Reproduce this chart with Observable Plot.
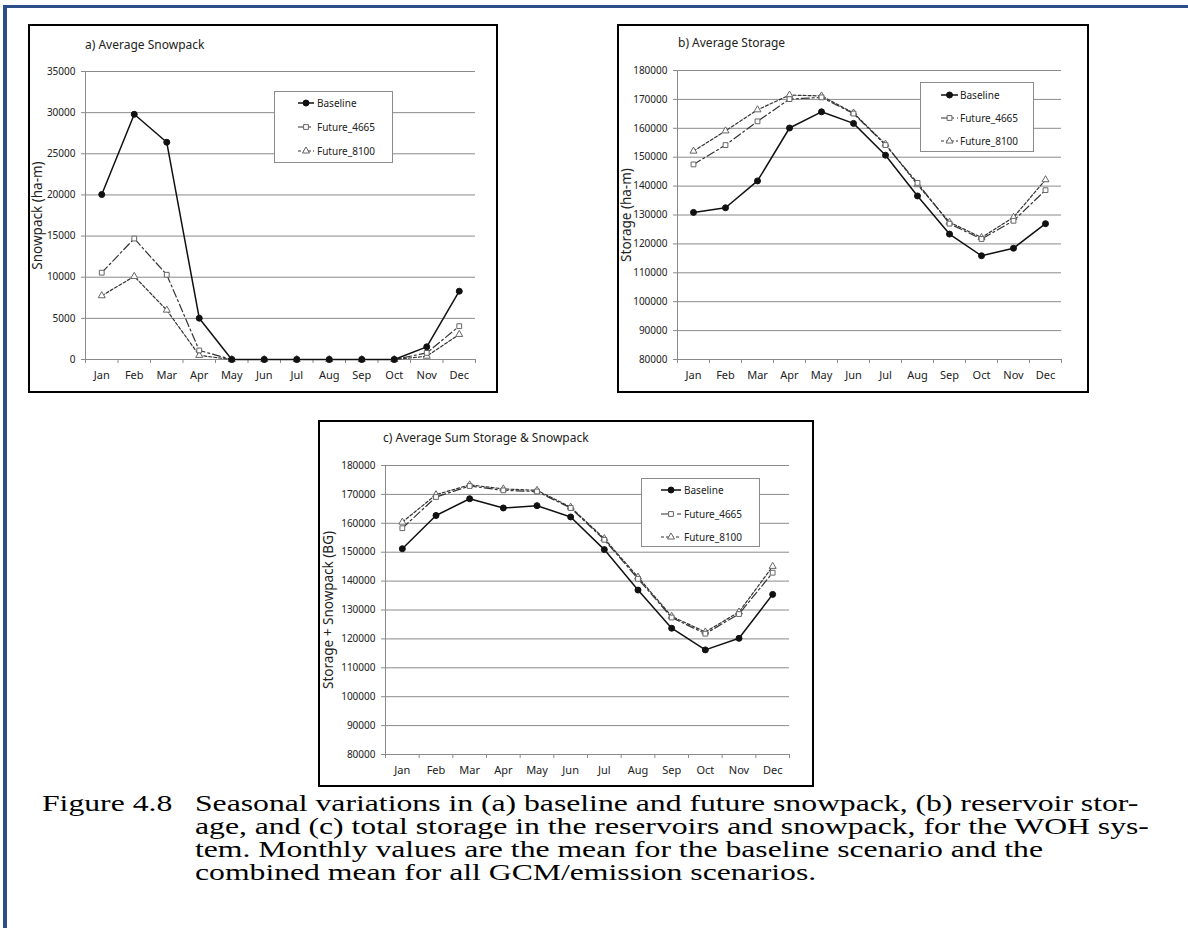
<!DOCTYPE html>
<html><head><meta charset="utf-8">
<script src="https://cdn.jsdelivr.net/npm/d3@7"></script>
<script src="https://cdn.jsdelivr.net/npm/@observablehq/plot@0.6"></script>
<style>
body{margin:0;background:#fff;width:1188px;height:928px;position:relative;overflow:hidden;font-family:"Noto Sans",sans-serif;}
#btop{position:absolute;left:3px;top:5px;width:1185px;height:2.5px;background:#2c4f8a;}
#bleft{position:absolute;left:3px;top:5px;width:3.5px;height:923px;background:#2c4f8a;}
.panel{position:absolute;border:2px solid #000;box-sizing:border-box;background:#fff;}
.panel svg{position:absolute;left:0;top:0;}
.title{position:absolute;font-size:12px;color:#222;white-space:nowrap;line-height:14px;}
.legend{position:absolute;border:1px solid #8c8c8c;box-sizing:border-box;background:#fff;}
.legend svg{position:absolute;left:0;top:0;overflow:visible;}
.cap{position:absolute;font-family:"Liberation Serif","Times New Roman",serif;font-size:24px;line-height:23px;color:#000;white-space:nowrap;transform:scaleX(1.32);transform-origin:0 0;}
</style>
</head><body>
<div id="btop"></div><div id="bleft"></div>
<script>
const months = ["Jan","Feb","Mar","Apr","May","Jun","Jul","Aug","Sep","Oct","Nov","Dec"];
const seriesNames = ["Baseline","Future_4665","Future_8100"];

// a) Average Snowpack (ha-m)
const snowBaseline = [20050, 29800, 26400, 5020, 0, 0, 0, 0, 0, 0, 1540, 8300];
const snowF4665    = [10550, 14700, 10300, 1100, 0, 0, 0, 0, 0, 0, 800, 4050];
const snowF8100    = [7750, 10100, 6000, 500, 0, 0, 0, 0, 0, 0, 400, 3050];
const snowTicks = [0,5000,10000,15000,20000,25000,30000,35000];

// b) Average Storage (ha-m)
const storBaseline = [130900, 132500, 141800, 160100, 165700, 161700, 150700, 136600, 123400, 115900, 118500, 127000];
const storF4665    = [147500, 154200, 162400, 170100, 170700, 165100, 154200, 141100, 127000, 121700, 128000, 138600];
const storF8100    = [152100, 159100, 166400, 171500, 171200, 165300, 154500, 140500, 127500, 122200, 129200, 142200];
const storTicks = [80000,90000,100000,110000,120000,130000,140000,150000,160000,170000,180000];

// c) Average Sum Storage & Snowpack
const sumBaseline = [151200, 162700, 168500, 165300, 166100, 162200, 150900, 136900, 123700, 116200, 120200, 135400];
const sumF4665    = [158300, 169100, 172900, 171400, 171000, 165300, 154300, 140800, 127400, 121800, 128600, 142900];
const sumF8100    = [160400, 169900, 173300, 171900, 171400, 165600, 154700, 141400, 127800, 122400, 129300, 145100];

const titles = ["a) Average Snowpack","b) Average Storage","c) Average Sum  Storage & Snowpack"];
const yLabels = ["Snowpack (ha-m)","Storage (ha-m)","Storage + Snowpack (BG)"];
const captionLines = [
  "Seasonal variations in (a) baseline and future snowpack, (b) reservoir stor-",
  "age, and (c) total storage in the reservoirs and snowpack, for the WOH sys-",
  "tem. Monthly values are the mean for the baseline scenario and the",
  "combined mean for all GCM/emission scenarios."
];
const captionLabel = "Figure 4.8";

const styles = {
  "Baseline":   {stroke:"#111", sw:1.5, dash:null, symbol:"circle", fill:"#111", dotStroke:"#111", r:3},
  "Future_4665":{stroke:"#333", sw:1.2, dash:"8,3,2,3", symbol:"square", fill:"#fff", dotStroke:"#666", r:2.7},
  "Future_8100":{stroke:"#333", sw:1.2, dash:"3,2", symbol:"triangle", fill:"#fff", dotStroke:"#666", r:2.6}
};

const rows = (arr, s) => arr.map((v,i)=>({m:i+1, v, s}));

function makePanel(cfg){
  const div = document.createElement("div");
  div.className = "panel";
  Object.assign(div.style,{left:cfg.left+"px",top:cfg.top+"px",width:cfg.width+"px",height:cfg.height+"px"});
  document.body.appendChild(div);
  const W = cfg.width-4, H = cfg.height-4;
  const marks = [
    Plot.gridY(cfg.ticks,{stroke:"#8a8a8a",strokeOpacity:1,strokeWidth:1}),
    Plot.ruleX([0.5],{stroke:"#8a8a8a",strokeWidth:1}),
    Plot.axisY({ticks:cfg.ticks,tickSize:4,tickPadding:6,tickFormat:d3.format("d"),stroke:"#8a8a8a",fill:"#222",label:null,fontSize:10}),
    Plot.axisX({ticks:d3.range(1,13),tickFormat:i=>months[i-1],tickSize:0,tickPadding:12,fill:"#222",label:null,fontSize:11}),
    Plot.axisX({ticks:d3.range(0.5,13,1),tickFormat:()=>"",tickSize:4,stroke:"#8a8a8a",label:null}),
    Plot.text([cfg.ylabel],{text:d=>d,frameAnchor:"left",textAnchor:"middle",rotate:-90,dx:cfg.ylabelDx,fontSize:13.5,fill:"#222"})
  ];
  const order = ["Future_8100","Future_4665","Baseline"];
  for(const s of order){
    const st = styles[s];
    marks.push(Plot.line(cfg.series[s],{x:"m",y:"v",stroke:st.stroke,strokeWidth:st.sw,strokeDasharray:st.dash}));
  }
  for(const s of order){
    const st = styles[s];
    marks.push(Plot.dot(cfg.series[s],{x:"m",y:"v",symbol:st.symbol,r:st.r,fill:st.fill,stroke:st.dotStroke,strokeWidth:1}));
  }
  const svg = Plot.plot({
    width:W,height:H,
    marginLeft:cfg.mL,marginRight:cfg.mR,marginTop:cfg.mT,marginBottom:cfg.mB,
    x:{domain:[0.5,12.5]},
    y:{domain:[cfg.ticks[0],cfg.ticks[cfg.ticks.length-1]]},
    style:{fontFamily:"Noto Sans",background:"transparent",overflow:"visible"},
    marks
  });
  div.appendChild(svg);
  const t = document.createElement("div");
  t.className="title"; t.textContent=cfg.title;
  Object.assign(t.style,{left:cfg.titleX+"px",top:cfg.titleY+"px"});
  div.appendChild(t);
  // legend
  const L = cfg.legend;
  const lg = document.createElement("div");
  lg.className="legend";
  Object.assign(lg.style,{left:L.left+"px",top:L.top+"px",width:L.w+"px",height:L.h+"px"});
  div.appendChild(lg);
  const ls = d3.select(lg).append("svg").attr("width",L.w).attr("height",L.h);
  seriesNames.forEach((s,k)=>{
    const st = styles[s], y = L.rows[k]-1;
    ls.append("line").attr("x1",L.x1).attr("x2",L.x2).attr("y1",y).attr("y2",y)
      .attr("stroke",st.stroke).attr("stroke-width",st.sw).attr("stroke-dasharray",st.dash);
    const sym = d3.symbol().type(st.symbol==="circle"?d3.symbolCircle:st.symbol==="square"?d3.symbolSquare:d3.symbolTriangle).size(Math.PI*st.r*st.r);
    ls.append("path").attr("d",sym()).attr("transform",`translate(${(L.x1+L.x2)/2},${y})`)
      .attr("fill",st.fill).attr("stroke",st.dotStroke);
    ls.append("text").attr("x",L.tx).attr("y",y).attr("dy","0.35em").text(s)
      .attr("font-family","Noto Sans").attr("font-size",10).attr("fill","#222");
  });
}

makePanel({left:28,top:24,width:470,height:369,mL:55,mR:21,mT:45,mB:32,ticks:snowTicks,
  series:{"Baseline":rows(snowBaseline,"Baseline"),"Future_4665":rows(snowF4665,"Future_4665"),"Future_8100":rows(snowF8100,"Future_8100")},
  ylabel:yLabels[0],ylabelDx:-48,title:titles[0],titleX:55,titleY:12,
  legend:{left:244,top:65,w:119,h:72,rows:[12,36,60],x1:23,x2:39,tx:42}});

makePanel({left:617,top:24,width:472,height:369,mL:58,mR:26,mT:44,mB:32,ticks:storTicks,
  series:{"Baseline":rows(storBaseline,"Baseline"),"Future_4665":rows(storF4665,"Future_4665"),"Future_8100":rows(storF8100,"Future_8100")},
  ylabel:yLabels[1],ylabelDx:-51,title:titles[1],titleX:59,titleY:10,
  legend:{left:301,top:56,w:114,h:70,rows:[13,36,59],x1:20,x2:37,tx:39}});

makePanel({left:318,top:420,width:496,height:367,mL:65,mR:23,mT:43,mB:31,ticks:storTicks,
  series:{"Baseline":rows(sumBaseline,"Baseline"),"Future_4665":rows(sumF4665,"Future_4665"),"Future_8100":rows(sumF8100,"Future_8100")},
  ylabel:yLabels[2],ylabelDx:-57,title:titles[2],titleX:63,titleY:9,
  legend:{left:321,top:56,w:119,h:69,rows:[12,36,59],x1:19,x2:39,tx:42}});

// caption
const capTop = 792;
const lab = document.createElement("div");
lab.className="cap"; lab.textContent=captionLabel;
Object.assign(lab.style,{left:"42px",top:capTop+"px"});
document.body.appendChild(lab);
captionLines.forEach((line,i)=>{
  const d = document.createElement("div");
  d.className="cap"; d.textContent=line;
  Object.assign(d.style,{left:"195px",top:(capTop+i*23)+"px"});
  document.body.appendChild(d);
});
</script>
</body></html>
